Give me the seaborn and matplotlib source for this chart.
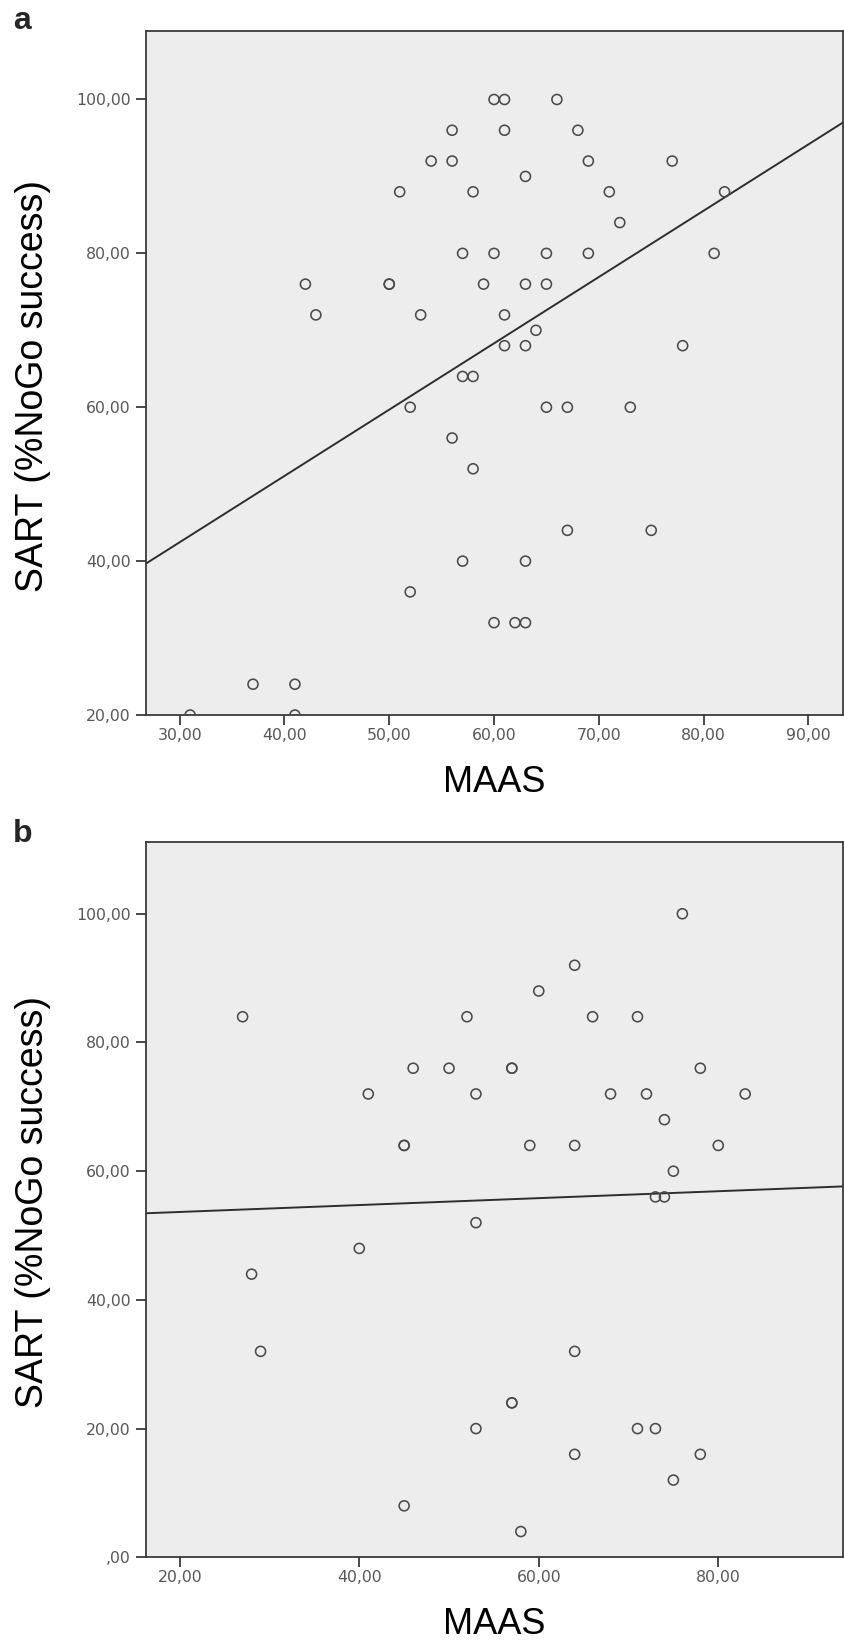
import matplotlib
matplotlib.use("Agg")
import matplotlib.pyplot as plt
import seaborn as sns
import pandas as pd

sns.set_theme(style="white")

# panel a: MAAS vs SART (%NoGo success)
maas_a = [60, 61, 66, 56, 61, 68, 54, 56, 69, 77, 63, 51, 58, 71, 82, 72,
          57, 60, 65, 69, 81, 42, 50, 50, 59, 63, 65, 43, 53, 61, 64, 61,
          63, 78, 57, 58, 52, 65, 67, 73, 56, 58, 67, 75, 57, 63, 52, 60,
          62, 63, 37, 41, 31, 41]
sart_a = [100, 100, 100, 96, 96, 96, 92, 92, 92, 92, 90, 88, 88, 88, 88, 84,
          80, 80, 80, 80, 80, 76, 76, 76, 76, 76, 76, 72, 72, 72, 70, 68,
          68, 68, 64, 64, 60, 60, 60, 60, 56, 52, 44, 44, 40, 40, 36, 32,
          32, 32, 24, 24, 20, 20]

# panel b
maas_b = [76, 64, 60, 27, 52, 66, 71, 46, 50, 57, 57, 78, 41, 53, 68, 72,
          83, 74, 45, 45, 59, 64, 80, 75, 73, 74, 53, 40, 28, 29, 64, 57,
          57, 53, 71, 73, 64, 78, 75, 45, 58]
sart_b = [100, 92, 88, 84, 84, 84, 84, 76, 76, 76, 76, 76, 72, 72, 72, 72,
          72, 68, 64, 64, 64, 64, 64, 60, 56, 56, 52, 48, 44, 32, 32, 24,
          24, 20, 20, 20, 16, 16, 12, 8, 4]

xticks_a = [30, 40, 50, 60, 70, 80, 90]
xtick_labels_a = ["30,00", "40,00", "50,00", "60,00", "70,00", "80,00", "90,00"]
yticks_a = [20, 40, 60, 80, 100]
ytick_labels_a = ["20,00", "40,00", "60,00", "80,00", "100,00"]

xticks_b = [20, 40, 60, 80]
xtick_labels_b = ["20,00", "40,00", "60,00", "80,00"]
yticks_b = [0, 20, 40, 60, 80, 100]
ytick_labels_b = [",00", "20,00", "40,00", "60,00", "80,00", "100,00"]

df_a = pd.DataFrame({"MAAS": maas_a, "SART": sart_a})
df_b = pd.DataFrame({"MAAS": maas_b, "SART": sart_b})

W, H = 845, 1642
fig = plt.figure(figsize=(W / 100, H / 100), dpi=100)
fig.patch.set_facecolor("white")

LABEL_FONT = ["Liberation Sans", "DejaVu Sans"]
TICK_FONT = ["DejaVu Sans"]


def panel(df, box, xlim, ylim, xt, xtl, yt, ytl, letter, letter_y, ylab_y):
    left, top, right, bottom = box
    ax = fig.add_axes([left / W, 1 - bottom / H, (right - left) / W, (bottom - top) / H])
    ax.set_facecolor("#ededed")
    ax.set_xlim(*xlim)
    ax.set_ylim(*ylim)
    # fit line spans the whole x range, like the SPSS output
    sns.regplot(data=df, x="MAAS", y="SART", ax=ax, ci=None, truncate=False,
                color="#4a4a4a",
                scatter_kws={"facecolors": "none", "s": 52, "linewidths": 1.15,
                             "alpha": 1, "zorder": 3},
                line_kws={"color": "#2e2e2e", "lw": 1.4, "zorder": 2})
    ax.set_xlim(*xlim)
    ax.set_ylim(*ylim)
    ax.set_xticks(xt)
    ax.set_xticklabels(xtl, family=TICK_FONT, fontsize=11.3, color="#585858")
    ax.set_yticks(yt)
    ax.set_yticklabels(ytl, family=TICK_FONT, fontsize=11.3, color="#585858")
    ax.tick_params(axis="both", which="major", direction="out", length=7,
                   width=1.3, color="#3a3a3a", left=True, bottom=True,
                   top=False, right=False)
    ax.tick_params(axis="x", pad=2)
    ax.tick_params(axis="y", pad=4)
    for s in ax.spines.values():
        s.set_visible(True)
        s.set_color("#3a3a3a")
        s.set_linewidth(1.3)
    ax.grid(False)
    ax.set_xlabel("MAAS", family=LABEL_FONT, fontsize=26, color="black")
    ax.set_ylabel("SART (%NoGo success)", family=LABEL_FONT, fontsize=27,
                  color="black")
    hpx = bottom - top
    wpx = right - left
    ax.xaxis.set_label_coords(0.5, -50 / hpx)
    ax.yaxis.set_label_coords((51 - left) / wpx, ylab_y)
    fig.text(13 / W, 1 - letter_y / H, letter, family=LABEL_FONT,
             fontsize=23, fontweight="bold", va="baseline", ha="left")
    return ax


panel(df_a, (145.7, 31, 843, 715), (26.76, 93.3), (20, 108.9),
      xticks_a, xtick_labels_a, yticks_a, ytick_labels_a, "a", 29, 0.481)
panel(df_b, (145.7, 841.7, 843, 1557.3), (16.2, 93.9), (0, 111.2),
      xticks_b, xtick_labels_b, yticks_b, ytick_labels_b, "b", 842, 0.496)

fig.savefig("out.png", dpi=100)
